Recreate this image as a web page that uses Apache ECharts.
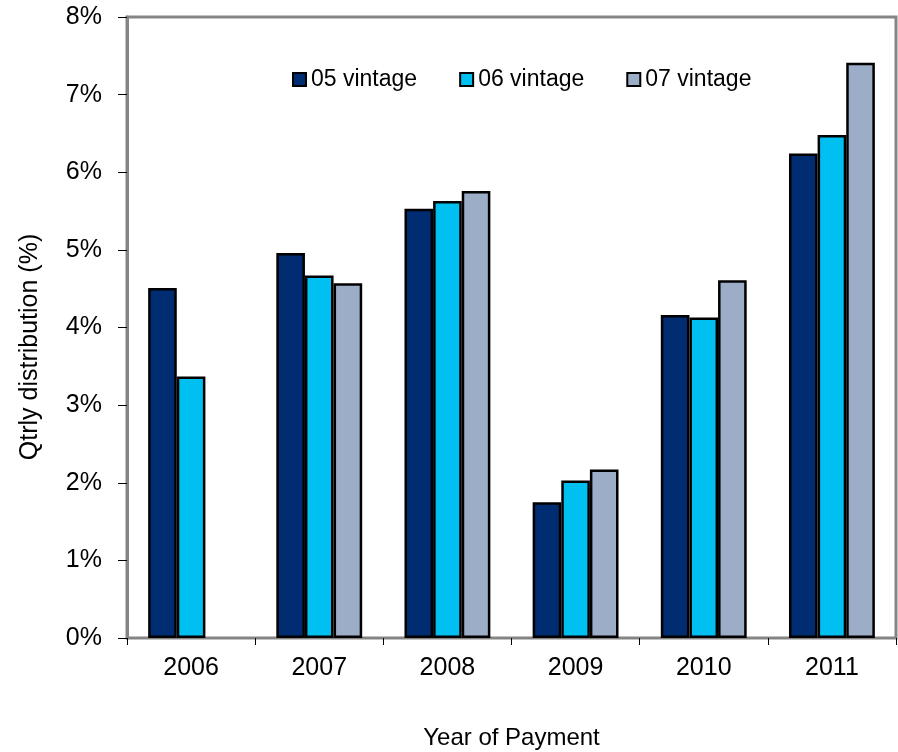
<!DOCTYPE html>
<html>
<head>
<meta charset="utf-8">
<script src="https://cdn.jsdelivr.net/npm/echarts@6/dist/echarts.min.js"></script>
<style>
  html, body { margin: 0; padding: 0; background: #fff; overflow: hidden; }
  #chart { width: 898px; height: 752px; }
</style>
</head>
<body>
<div id="chart"></div>
<script>
// Payment years on the category axis
var years = ['2006', '2007', '2008', '2009', '2010', '2011'];

// Quarterly distribution (%) by vintage; 07 vintage has no 2006 payment
var vintage05 = [4.51, 4.96, 5.53, 1.75, 4.16, 6.24];
var vintage06 = [3.37, 4.67, 5.63, 2.03, 4.13, 6.48];
var vintage07 = [null, 4.57, 5.76, 2.17, 4.61, 7.41];

var seriesNames = ['05 vintage', '06 vintage', '07 vintage'];
var seriesColors = ['#002D72', '#00C0F2', '#9CADC8'];
var seriesData = [vintage05, vintage06, vintage07];

var font = '"Liberation Sans", Arial, sans-serif';

var chart = echarts.init(document.getElementById('chart'));

chart.setOption({
  backgroundColor: '#ffffff',
  animation: false,
  textStyle: { fontFamily: font },
  grid: {
    left: 127,
    right: 2,
    top: 17,
    bottom: 114,
    outerBoundsMode: 'none',
    containLabel: false,
    show: true,
    borderColor: '#858585',
    borderWidth: 3,
    backgroundColor: 'transparent'
  },
  legend: {
    left: 292,
    top: 68,
    padding: 0,
    itemWidth: 13,
    itemHeight: 13,
    itemGap: 42,
    icon: 'rect',
    itemStyle: { borderColor: '#000', borderWidth: 2 },
    textStyle: { fontSize: 23, color: '#000', fontFamily: font },
    data: seriesNames
  },
  // Y-axis title, drawn rotated beside the tick labels
  graphic: [{
    type: 'text',
    x: 30,
    y: 347,
    rotation: Math.PI / 2,
    style: {
      text: 'Qtrly distribution (%)',
      font: '25px ' + font,
      fill: '#000',
      align: 'center',
      verticalAlign: 'middle'
    }
  }],
  xAxis: {
    type: 'category',
    data: years,
    axisLine: { show: true, lineStyle: { color: '#858585', width: 2 } },
    axisTick: { show: true, alignWithLabel: false, length: 7, lineStyle: { color: '#000', width: 1 } },
    axisLabel: { fontSize: 25, color: '#000', margin: 18, fontFamily: font },
    name: 'Year of Payment',
    nameLocation: 'middle',
    nameGap: 88,
    nameTextStyle: { fontSize: 24, color: '#000', fontFamily: font }
  },
  yAxis: {
    type: 'value',
    min: 0,
    max: 8,
    interval: 1,
    splitLine: { show: false },
    axisLine: { show: true, lineStyle: { color: '#858585', width: 3 } },
    axisTick: { show: true, inside: false, length: 9, lineStyle: { color: '#000', width: 1 } },
    axisLabel: { fontSize: 25, color: '#000', margin: 25, formatter: '{value}%', fontFamily: font }
  },
  series: seriesNames.map(function (name, i) {
    return {
      name: name,
      type: 'bar',
      data: seriesData[i],
      barGap: '0%',
      barCategoryGap: '33%',
      itemStyle: { color: seriesColors[i], borderColor: '#000', borderWidth: 2.5 }
    };
  })
});
</script>
</body>
</html>
